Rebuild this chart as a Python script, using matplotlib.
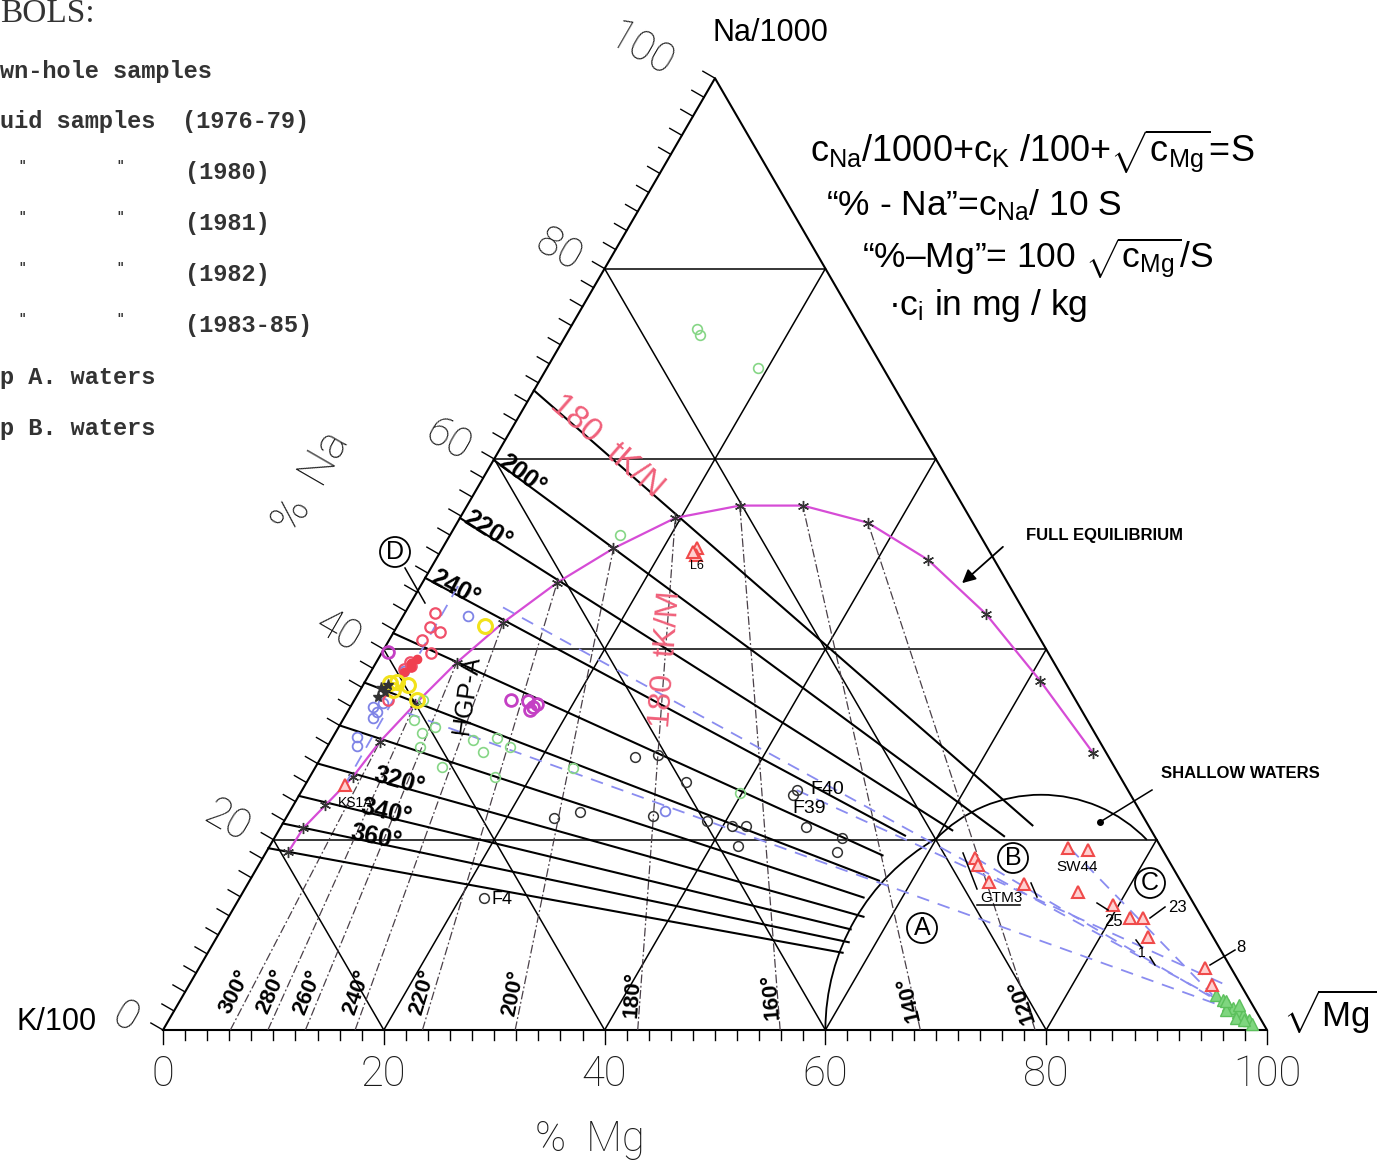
import numpy as np
import matplotlib.pyplot as plt
from matplotlib.patches import Arc

plt.rcParams['font.family'] = ['Liberation Sans', 'DejaVu Sans']
plt.rcParams['mathtext.fontset'] = 'custom'
plt.rcParams['mathtext.rm'] = 'Liberation Sans'
plt.rcParams['mathtext.it'] = 'Liberation Sans'
plt.rcParams['mathtext.bf'] = 'Liberation Sans:bold'

# ---- data (in %Mg / %Na) ----
grid_steps = [20, 40, 60, 80]
axis_labels = [0, 20, 40, 60, 80, 100]

# full equilibrium curve, one star every 20 deg from 380 down to 40
fe_temp = [380, 360, 340, 320, 300, 280, 260, 240, 220, 200, 180, 160, 140, 120, 100, 80, 60, 40]
fe_mg = [2.0, 2.1, 2.9, 3.9, 4.5, 5.7, 7.3, 9.4, 12.2, 15.5, 19.5, 24.7, 30.4, 37.2, 44.6, 52.7, 61.1, 69.7]
fe_na = [18.7, 21.2, 23.6, 26.6, 30.3, 34.2, 38.6, 42.8, 47.0, 50.6, 53.8, 55.1, 55.1, 53.3, 49.4, 43.7, 36.7, 29.1]

# tK/M isotherms: %Mg where they leave the base
km_temp = [300, 280, 260, 240, 220, 200, 180, 160, 140, 120]
km_mg0 = [6.1, 9.5, 12.9, 17.4, 23.5, 31.9, 43.0, 55.9, 68.6, 79.0]

# tK/N isotherms: %Na on the left edge and %Mg where they stop
kn_temp = [380, 360, 340, 320, 300, 280, 260, 240, 220, 200, 180]
kn_na0 = [19.1, 21.7, 24.6, 28.0, 32.0, 36.5, 41.7, 47.5, 53.8, 59.9, 67.2]
kn_mg_end = [57.5, 57.5, 57.0, 57.5, 56.5, 57.0, 56.0, 57.0, 61.0, 66.0, 68.0]
kn_lab_temp = [200, 220, 240, 320, 340, 360]
kn_lab_mg = [0.6, 0.4, 0.6, 5.8, 6.3, 6.8]

# samples
blk_mg = [28.4, 30.4, 34.3, 26.3, 24.3, 33.1, 38.3, 40.8, 42.1, 42.4, 44.8, 44.7, 47.6, 51.4, 51.7, 22.1]
blk_na = [28.7, 28.9, 26.1, 22.9, 22.3, 22.5, 22.0, 21.4, 21.4, 19.3, 25.2, 24.7, 21.3, 20.2, 18.7, 13.9]
red_mg = [2.7, 3.0, 4.2, 3.0, 4.5, 3.0, 3.4, 2.9, 3.0]
red_na = [43.8, 42.3, 41.8, 41.0, 39.6, 38.7, 38.2, 37.9, 34.7]
redf_mg = [3.2, 3.4, 3.0, 3.5]
redf_na = [38.6, 38.1, 37.6, 39.0]
mag_mg = [0.5, 14.2, 15.8, 16.6, 16.8, 16.4]
mag_na = [39.7, 34.7, 34.6, 33.9, 34.2, 33.6]
yel_mg = [2.3, 2.9, 4.1, 3.0, 5.7, 7.9]
yel_na = [36.5, 36.6, 36.2, 35.7, 34.7, 42.5]
dh_mg = [1.8, 2.4, 2.0, 2.2]
dh_na = [35.9, 35.5, 35.0, 36.3]
blu_mg = [2.1, 2.7, 2.7, 2.6, 2.2, 2.7, 3.0, 5.9, 34.0]
blu_na = [33.9, 33.4, 34.4, 32.8, 30.8, 29.8, 37.7, 43.5, 23.0]
grn_mg = [6.2, 6.4, 7.9, 8.4, 8.7, 12.8, 14.4, 14.9, 16.6, 11.5, 16.8, 23.4, 39.8, 15.4, 11.5, 12.1, 19.1]
grn_na = [34.7, 32.6, 31.2, 29.7, 31.8, 30.5, 29.2, 30.7, 29.7, 27.6, 26.6, 27.5, 24.9, 52.0, 73.7, 73.0, 69.6]
tri_mg = [72.4, 74.3, 64.5, 65.2, 67.0, 70.3, 75.6, 79.5, 81.7, 82.9, 84.3, 91.1, 92.7, 3.6, 23.1, 23.3, 22.9]
tri_na = [19.1, 18.9, 18.1, 17.3, 15.6, 15.3, 14.5, 13.1, 11.8, 11.8, 9.8, 6.5, 4.7, 25.7, 50.6, 49.9, 50.2]
gtri_mg = [93.5, 94.4, 95.2, 95.8, 96.4, 97.0, 97.8, 98.3, 95.2, 96.2, 96.5, 94.8, 97.4]
gtri_na = [3.7, 3.2, 2.6, 2.3, 1.9, 1.6, 1.1, 0.6, 2.1, 2.6, 1.3, 3.0, 1.0]

# mixing lines (blue dashed)
mix_mg0 = [8.6, 5.5, 72.6, 64.5, 44.8, 3.6]
mix_na0 = [44.4, 33.3, 19.1, 18.1, 25.2, 25.7]
mix_mg1 = [95.2, 95.3, 93.2, 94.9, 93.5, 3.4]
mix_na1 = [2.6, 2.3, 3.7, 2.6, 4.9, 46.7]

# ---- geometry ----
W, H = 1381, 1168
X0, Y0 = 163, 1030
SX, SY = 11.04, 10.99
R3 = np.sqrt(3) / 2


def tern(mg, na):
    mg = np.asarray(mg, float)
    na = np.asarray(na, float)
    return mg + na / 2, na * R3


def px(x, y):
    return (x - X0) / SX, (Y0 - y) / SY


fig = plt.figure(figsize=(W / 100, H / 100), dpi=100)
ax = fig.add_axes([0, 0, 1, 1])
ax.set_xlim(-X0 / SX, (W - X0) / SX)
ax.set_ylim(-(H - Y0) / SY, Y0 / SY)
ax.axis('off')


def put(x, y, s, **kw):
    return ax.text(*px(x, y), s, **kw)


def seg(p, q, **kw):
    a, b = px(*p), px(*q)
    ax.plot([a[0], b[0]], [a[1], b[1]], **kw)


def disp_angle(p, q):
    a = ax.transData.transform(p)
    b = ax.transData.transform(q)
    return np.degrees(np.arctan2(b[1] - a[1], b[0] - a[0]))


# triangle and grid
ax.plot(*tern([0, 100, 0, 0], [0, 0, 100, 0]), color='k', lw=1.5)
for v in grid_steps:
    ax.plot(*tern([0, 100 - v], [v, v]), color='k', lw=1.1)
    ax.plot(*tern([v, v], [0, 100 - v]), color='k', lw=1.1)
    ax.plot(*tern([v, 0], [0, v]), color='k', lw=1.1)

# ticks
for na in range(0, 101, 2):
    x, y = tern(0, na)
    ax.plot([x, x - 0.866 * 14 / SX], [y, y + 0.5 * 14 / SY], color='k', lw=1.0)
for mg in range(0, 101, 2):
    x, y = tern(mg, 0)
    L = 14 if mg % 20 == 0 else 10
    ax.plot([x, x], [y, y - L / SY], color='k', lw=1.0)

thin = dict(family=['Roboto', 'DejaVu Sans'], fontweight='light', color='#1a1a1a')
for v in axis_labels:
    x, _ = tern(v, 0)
    ax.text(x, px(0, 1075)[1], str(v), ha='center', va='center', fontsize=30, **thin)
    off = {1: (-38, 12), 2: (-46, 18), 3: (-74, 28)}[len(str(v))]
    ax.annotate(str(v), xy=tern(0, v), xytext=off, textcoords='offset pixels',
                rotation=-30, ha='center', va='center', fontsize=30, **thin)

# tK/M isotherms (dash-dot), base -> star of same temperature
for t, m0 in zip(km_temp, km_mg0):
    i = fe_temp.index(t)
    ax.plot(*tern([m0, fe_mg[i]], [0, fe_na[i]]), color='#4a4048', lw=0.9,
            ls=(0, (7, 2, 1.5, 2)))
    p0 = tern(m0, 1.2)
    ang = disp_angle(tern(m0, 0), tern(fe_mg[i], fe_na[i]))
    r = np.radians(ang)
    ax.annotate(f'{t}°', xy=p0, xytext=(-3 * np.sin(r), 3 * np.cos(r)),
                textcoords='offset pixels', rotation=ang, rotation_mode='anchor',
                ha='left', va='bottom', fontsize=16, fontweight='bold')

# tK/N isotherms (solid)
for t, n0, me in zip(kn_temp, kn_na0, kn_mg_end):
    ax.plot(*tern([0, me], [n0, n0 * (1 - me / 100)]), color='k', lw=1.5)
for t, ml in zip(kn_lab_temp, kn_lab_mg):
    n0 = kn_na0[kn_temp.index(t)]
    ang = disp_angle(tern(0, n0), tern(100, 0))
    r = np.radians(ang)
    ax.annotate(f'{t}°', xy=tern(ml, n0 * (1 - ml / 100)), xytext=(7 * np.sin(r), -7 * np.cos(r)),
                textcoords='offset pixels', rotation=ang, rotation_mode='anchor',
                ha='left', va='bottom', fontsize=18, fontweight='bold')

# red labels for the 180 deg lines
n180 = kn_na0[kn_temp.index(180)]
ang = disp_angle(tern(0, n180), tern(100, 0))
ax.annotate('180  tK/N', xy=tern(10.0, n180 * 0.90), xytext=(0, 8), textcoords='offset pixels',
            rotation=ang, rotation_mode='anchor', ha='center', va='center',
            fontsize=24, color='#f0607a')
i180 = fe_temp.index(180)
m180 = km_mg0[km_temp.index(180)]
ang = disp_angle(tern(m180, 0), tern(fe_mg[i180], fe_na[i180]))
ax.annotate('180  tK/M', xy=tern(m180 * 0.61, 39), xytext=(-2, 0), textcoords='offset pixels',
            rotation=ang, rotation_mode='anchor', ha='center', va='center',
            fontsize=23, color='#f0607a')

# full equilibrium curve
ax.plot(*tern(fe_mg, fe_na), color='#d64cd6', lw=1.6)
ax.plot(*tern(fe_mg, fe_na), ls='none', marker=(6, 2, 0), ms=8, mew=1.0, color='#333333')

# mixing lines
for a, b, c, d in zip(mix_mg0, mix_na0, mix_mg1, mix_na1):
    ax.plot(*tern([a, c], [b, d]), color='#8a8cf0', lw=1.3, ls=(0, (7, 5)))

# region boundaries
ca = tern(80, 0)
ax.add_patch(Arc(ca, 40, 40 * SX / SY, theta1=120, theta2=180, color='k', lw=1.3))
cs = px(1041, 941.6)
ax.add_patch(Arc(cs, 2 * 13.3, 2 * 13.3 * SX / SY, theta1=44, theta2=136, color='k', lw=1.3))

# samples
ax.plot(*tern(gtri_mg, gtri_na), ls='none', marker='^', ms=8, color='#7fd67f', mec='#5cc05c')
ax.plot(*tern(grn_mg, grn_na), ls='none', marker='o', ms=7, mfc='none', mec='#86d686', mew=1.2)
ax.plot(*tern(blu_mg, blu_na), ls='none', marker='o', ms=7, mfc='none', mec='#7f84e6', mew=1.3)
ax.plot(*tern(blk_mg, blk_na), ls='none', marker='o', ms=7, mfc='none', mec='#333333', mew=1.1)
ax.plot(*tern(red_mg, red_na), ls='none', marker='o', ms=7.5, mfc='none', mec='#f0506a', mew=1.6)
ax.plot(*tern(redf_mg, redf_na), ls='none', marker='o', ms=6, color='#f04050')
ax.plot(*tern(yel_mg, yel_na), ls='none', marker='o', ms=10, mfc='none', mec='#f2e21a', mew=2.2)
ax.plot(*tern(mag_mg, mag_na), ls='none', marker='o', ms=8.5, mfc='none', mec='#c440c4', mew=2.0)
ax.plot(*tern(dh_mg, dh_na), ls='none', marker='*', ms=8, color='#333333')
ax.plot(*tern(tri_mg, tri_na), ls='none', marker='^', ms=8, mfc='#ffd0d0', mec='#f04a4a', mew=1.5)

# small boundary marks and leaders
for p, q in [((963, 853), (977, 889)), ((1031, 883), (1037, 897)), ((977, 905), (1020, 905)),
             ((1097, 903), (1108, 910)), ((1136, 940), (1142, 948)), ((1150, 957), (1155, 965)),
             ((1150, 918), (1165, 907)), ((1210, 965), (1235, 950)), ((405, 568), (425, 603)),
             ((1152, 790), (1100, 822))]:
    seg(p, q, color='k', lw=1.1)
ax.plot(*px(1100, 822), 'ko', ms=4)
ax.annotate('', xy=px(960, 585), xytext=px(1005, 545),
            arrowprops=dict(arrowstyle='-|>', color='k', lw=1.3, mutation_scale=20))

# circled region letters
for s, x, y in [('A', 922, 928), ('B', 1013, 858), ('C', 1150, 883), ('D', 395, 552)]:
    put(x, y, s, ha='center', va='center', fontsize=18,
        bbox=dict(boxstyle='circle,pad=0.12', fc='white', ec='k', lw=1.3))

# small sample labels
for s, x, y, fs in [('L6', 697, 566, 9), ('KS1A', 356, 803, 10), ('F4', 502, 900, 13),
                    ('F40', 827, 790, 14), ('F39', 809, 808, 14), ('SW44', 1077, 867, 11),
                    ('GTM3', 1001, 898, 11), ('25', 1113, 921, 12), ('23', 1177, 907, 12),
                    ('1', 1142, 953, 10), ('8', 1241, 948, 12)]:
    put(x, y, s, ha='center', va='center', fontsize=fs)
put(467, 695, 'HGP-A', ha='center', va='center', fontsize=18, rotation=82)

put(1105, 535, 'FULL EQUILIBRIUM', ha='center', va='center', fontsize=12, fontweight='bold')
put(1240, 773, 'SHALLOW WATERS', ha='center', va='center', fontsize=12, fontweight='bold')

# formula block
put(810, 152, 'c$_{\\mathrm{Na}}$/1000+c$_{\\mathrm{K}}$ /100+$\\sqrt{\\mathrm{c_{Mg}}}$=S',
    ha='left', va='center', fontsize=26)
put(826, 205, '“% - Na”=c$_{\\mathrm{Na}}$/ 10 S', ha='left', va='center', fontsize=25.5)
put(862, 258, '“%–Mg”= 100 $\\sqrt{\\mathrm{c_{Mg}}}$/S', ha='left', va='center', fontsize=25.5)
put(888, 305, '·c$_{\\mathrm{i}}$ in mg / kg', ha='left', va='center', fontsize=25.5)

# corner and axis titles
put(770, 33, 'Na/1000', ha='center', va='center', fontsize=22)
put(57, 1022, 'K/100', ha='center', va='center', fontsize=22)
put(1330, 1012, '$\\sqrt{\\mathrm{Mg}}$', ha='center', va='center', fontsize=25)
put(590, 1140, '%  Mg', ha='center', va='center', fontsize=30, **thin)
put(312, 482, '%  Na', ha='center', va='center', fontsize=32, rotation=60, **thin)

# symbols key (cut at the left margin of the scan)
mono = dict(family=['Liberation Mono', 'DejaVu Sans Mono'], fontsize=17, fontweight='bold',
            color='#333333', ha='left', va='center')
put(0, 14, 'BOLS:', family=['Liberation Serif', 'DejaVu Serif'], fontsize=24,
    color='#333333', ha='left', va='center')
put(0, 71, 'wn-hole samples', **mono)
put(0, 121, 'uid samples', **mono)
put(182, 121, '(1976-79)', **mono)
for y, yr in zip([172, 223, 274, 325], ['(1980)', '(1981)', '(1982)', '(1983-85)']):
    put(18, y - 6, '"', **dict(mono, fontsize=9))
    put(116, y - 6, '"', **dict(mono, fontsize=9))
    put(185, y, yr, **mono)
put(0, 377, 'p A. waters', **mono)
put(0, 428, 'p B. waters', **mono)

fig.savefig('out.png', dpi=100, facecolor='white')
